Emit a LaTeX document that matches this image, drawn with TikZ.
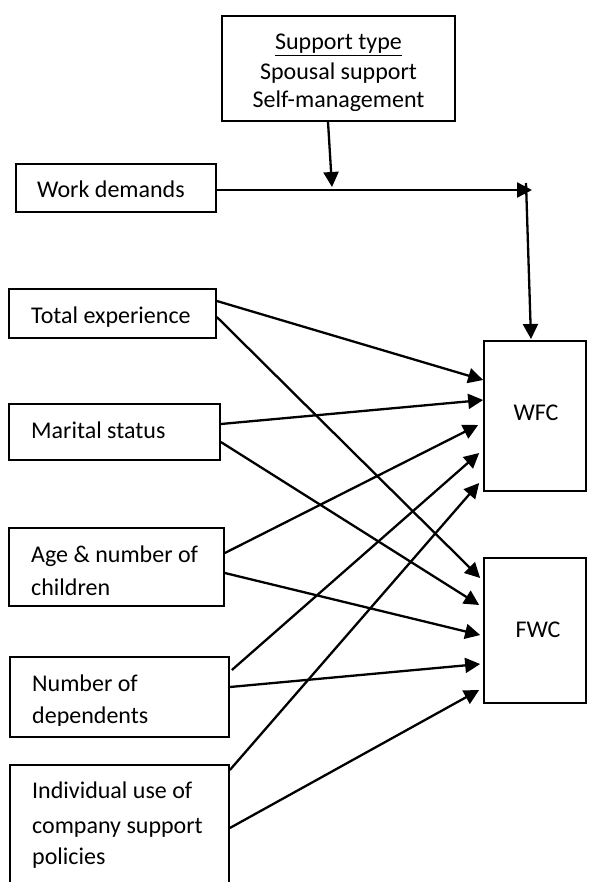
\documentclass[tikz,border=0pt]{standalone}
\usepackage{fontspec}
\setmainfont{Carlito}
\usetikzlibrary{arrows.meta,calc}
\begin{document}
\begin{tikzpicture}[x=1pt,y=-1pt,
  box/.style={draw, line width=1.7pt, inner sep=0pt},
  lbl/.style={anchor=base west, inner sep=0pt, font=\fontsize{24}{28}\selectfont},
  clbl/.style={anchor=base, inner sep=0pt, font=\fontsize{24}{28}\selectfont},
  arr/.style={line width=2.3pt, -{Triangle[length=15pt,width=15pt]}}]
\useasboundingbox (0,0) rectangle (589,882);
% boxes
\node[box, minimum width=233pt, minimum height=105pt] (sup) at (338.5,68.5) {};
\node[box, minimum width=200pt, minimum height=48pt] (wd) at (116,188) {};
\node[box, minimum width=207pt, minimum height=49pt] (te) at (112.5,313.5) {};
\node[box, minimum width=211pt, minimum height=56pt] (ms) at (114.5,432) {};
\node[box, minimum width=215pt, minimum height=78pt] (age) at (116.5,567) {};
\node[box, minimum width=219pt, minimum height=80pt] (nd) at (119.5,697) {};
\node[box, minimum width=219pt, minimum height=121pt] (ind) at (119.5,825.5) {};
\node[box, minimum width=102pt, minimum height=150pt] (wfc) at (535,416) {};
\node[box, minimum width=102pt, minimum height=145pt] (fwc) at (535,630.5) {};
% labels
\begin{scope}
\clip (223,17) rectangle (454,110.5);
\node[clbl] (supt) at (338.5,50) {\underline{Support type}};
\node[clbl] (sups) at (338.5,80) {Spousal support};
\node[clbl] (supm) at (338.5,108) {Self-management};
\end{scope}
\node[lbl] (wdt) at (37,198) {Work demands};
\node[lbl] (tet) at (31,323) {Total experience};
\node[lbl] (mst) at (31,438) {Marital status};
\node[lbl] (aget1) at (31,562) {Age \& number of};
\node[lbl] (aget2) at (31,595) {children};
\begin{scope}
\clip (11,658) rectangle (228,725);
\node[lbl] (ndt1) at (32,691) {Number of};
\node[lbl] (ndt2) at (32,723) {dependents};
\end{scope}
\node[lbl] (indt1) at (32,798) {Individual use of};
\node[lbl] (indt2) at (32,833) {company support};
\node[lbl] (indt3) at (32,864) {policies};
\node[clbl] (wfct) at (536,420) {WFC};
\node[clbl] (fwct) at (538,637) {FWC};
% top connectors
\coordinate (j) at (532,190);
\coordinate (k) at (526,183);
\coordinate (m) at (332,187);
\draw[arr] (wd.east |- 0,190) -- (j);
\draw[arr] (sup.south -| 328,0) -- (m);
\draw[arr] (k) -- (531,339);
% predictors
\draw[arr] (te.east |- 0,301) -- (wfc.west |- 0,380);
\draw[arr] (te.east |- 0,317) -- ([xshift=-3pt]fwc.west |- 0,578);
\draw[arr] (ms.east |- 0,424) -- (wfc.west |- 0,400);
\draw[arr] (ms.east |- 0,442) -- ([xshift=-4pt]fwc.west |- 0,605);
\draw[arr] (age.east |- 0,553) -- ([xshift=-5pt]wfc.west |- 0,425);
\draw[arr] (age.east |- 0,573) -- ([xshift=-3pt]fwc.west |- 0,635);
\draw[arr] ([xshift=2pt]nd.east |- 0,670) -- ([xshift=-4pt]wfc.west |- 0,453);
\draw[arr] (nd.east |- 0,687) -- ([xshift=-3pt]fwc.west |- 0,664);
\draw[arr] (ind.east |- 0,770) -- ([xshift=-4pt]wfc.west |- 0,483);
\draw[arr] (ind.east |- 0,828) -- ([xshift=-4pt]fwc.west |- 0,690);
\end{tikzpicture}
\end{document}
